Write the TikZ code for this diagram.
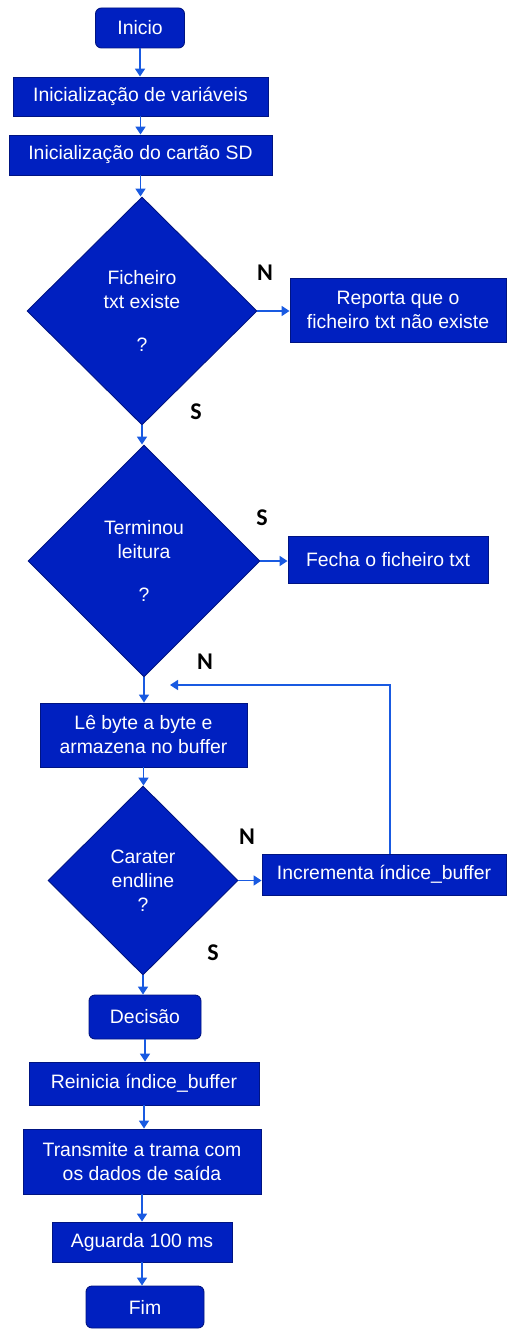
\documentclass[tikz,border=0pt]{standalone}
\usepackage{fontspec}
\setmainfont{Liberation Sans}
\newfontfamily\lblfont{Carlito}
\usetikzlibrary{shapes.geometric,arrows.meta}
\definecolor{boxfill}{RGB}{0,32,192}
\definecolor{boxline}{RGB}{0,20,130}
\definecolor{flow}{RGB}{25,90,225}
\tikzset{
  base/.style={draw=boxline, line width=0.9pt, fill=boxfill, text=white,
    font=\fontsize{19.4}{24}\selectfont, align=center, inner sep=0pt},
  proc/.style={base, rectangle},
  term/.style={base, rectangle, rounded corners=6pt},
  decide/.style={base, diamond, aspect=1},
  arr/.style={draw=flow, line width=1.6pt, -{Triangle[length=8pt,width=10pt]}},
  lbl/.style={font=\lblfont\bfseries\fontsize{24}{26}\selectfont, text=black, inner sep=0pt}
}
\begin{document}
\begin{tikzpicture}[x=1pt,y=-1pt]
\useasboundingbox (0,0) rectangle (507,1329);

% main column
\node[term, minimum width=89, minimum height=40] (inicio) at (140,28) {Inicio};
\node[proc, minimum width=255, minimum height=39] (vars) at (140.5,96.5) {Inicialização de variáveis};
\node[proc, minimum width=263, minimum height=40] (sd) at (140.5,155) {Inicialização do cartão SD};
\node[decide, minimum width=230, minimum height=228] (d1) at (142,311) {Ficheiro\\txt existe\\[19pt]?};
\node[proc, minimum width=216, minimum height=64] (reporta) at (398,310) {Reporta que o\\ficheiro txt não existe};
\node[decide, minimum width=232, minimum height=232] (d2) at (144,561) {Terminou\\leitura\\[19pt]?};
\node[proc, minimum width=200, minimum height=47] (fecha) at (388,559.5) {Fecha o ficheiro txt};
\node[proc, minimum width=207, minimum height=64] (le) at (143.5,735) {Lê byte a byte e\\armazena no buffer};
\node[decide, minimum width=190, minimum height=189] (d3) at (143,880.5) {Carater\\endline\\?};
\node[proc, minimum width=244, minimum height=41] (incr) at (384,874.5) {Incrementa índice\_buffer};
\node[term, minimum width=112, minimum height=44] (decisao) at (145,1017) {Decisão};
\node[proc, minimum width=230, minimum height=43] (reinicia) at (144,1083.5) {Reinicia índice\_buffer};
\node[proc, minimum width=238, minimum height=65] (transmite) at (142,1161.5) {Transmite a trama com\\os dados de saída};
\node[proc, minimum width=180, minimum height=40] (aguarda) at (142,1242) {Aguarda 100 ms};
\node[term, minimum width=118, minimum height=42] (fim) at (145,1307) {Fim};

% branch labels
\node[lbl] (n1) at (265,273) {N};
\node[lbl] (s1) at (196,412) {S};
\node[lbl] (s2) at (262,518) {S};
\node[lbl] (n2) at (205,662) {N};
\node[lbl] (n3) at (247,837) {N};
\node[lbl] (s3) at (213,953) {S};

% vertical flow
\draw[arr] (inicio.south) -- (inicio.south |- vars.north);
\draw[arr] (vars.south) -- (vars.south |- sd.north);
\draw[arr] (sd.south) -- (sd.south |- d1.north);
\draw[arr] (d1.south) -- (d1.south |- d2.north);
\draw[arr] (d2.south) -- (d2.south |- le.north);
\draw[arr] (le.south) -- (le.south |- d3.north);
\draw[arr] (d3.south) -- (d3.south |- decisao.north);
\draw[arr] (decisao.south) -- (decisao.south |- reinicia.north);
\draw[arr] (reinicia.south) -- (reinicia.south |- transmite.north);
\draw[arr] (transmite.south) -- (transmite.south |- aguarda.north);
\draw[arr] (aguarda.south) -- (aguarda.south |- fim.north);

% side branches
\draw[arr] (d1.east) -- (d1.east -| reporta.west);
\draw[arr] (d2.east) -- (d2.east -| fecha.west);
\draw[arr] (d3.east) -- (d3.east -| incr.west);

% loop back to reading
\coordinate (loopend) at (170,685);
\draw[arr] (incr.north -| 390,0) -- (390,685) -- (loopend);
\end{tikzpicture}
\end{document}
